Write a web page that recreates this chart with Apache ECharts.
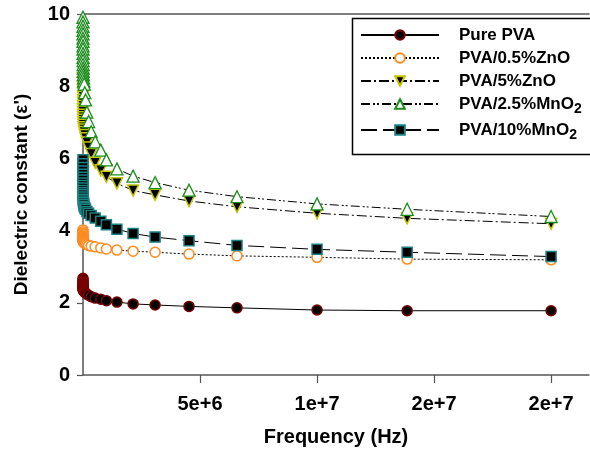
<!DOCTYPE html>
<html>
<head>
<meta charset="utf-8">
<script src="https://cdn.jsdelivr.net/npm/echarts@6/dist/echarts.min.js"></script>
<style>
html,body{margin:0;padding:0;background:#fff;}
#chart{width:590px;height:452px;}
</style>
</head>
<body>
<div id="chart"></div>
<script>
// Frequencies (Hz)
const frequency = [50, 75, 110, 160, 240, 350, 520, 760, 1100, 1650, 2400, 3500, 5200, 7600, 11000, 16500, 24000, 35000,
  52000, 76000, 110000, 165000, 240000, 350000, 520000, 760000, 1000000,
  1450000, 2140000, 3080000, 4530000, 6580000, 10000000, 13850000, 20000000];

const purePVA = [2.68, 2.64, 2.60, 2.57, 2.54, 2.51, 2.49, 2.47, 2.45, 2.43, 2.41, 2.40, 2.38, 2.37, 2.36, 2.35, 2.34, 2.33,
  2.31, 2.29, 2.27, 2.24, 2.21, 2.17, 2.13, 2.10, 2.06,
  2.02, 1.97, 1.94, 1.90, 1.86, 1.80, 1.78, 1.78];

const pva05ZnO = [4.02, 3.97, 3.93, 3.89, 3.86, 3.83, 3.81, 3.79, 3.77, 3.76, 3.74, 3.73, 3.72, 3.71, 3.70, 3.69, 3.68, 3.67,
  3.66, 3.65, 3.63, 3.61, 3.59, 3.57, 3.55, 3.52, 3.49,
  3.46, 3.43, 3.40, 3.35, 3.30, 3.26, 3.21, 3.19];

const pva5ZnO = [8.22, 8.10, 7.99, 7.90, 7.80, 7.71, 7.62, 7.54, 7.45, 7.37, 7.29, 7.21, 7.14, 7.07, 7.00, 6.93, 6.86, 6.80,
  6.73, 6.65, 6.56, 6.44, 6.30, 6.12, 5.88, 5.67, 5.49,
  5.31, 5.11, 4.99, 4.82, 4.66, 4.48, 4.34, 4.19];

const pva25MnO2 = [9.91, 9.78, 9.66, 9.55, 9.45, 9.33, 9.24, 9.12, 9.03, 8.91, 8.80, 8.71, 8.60, 8.50, 8.41, 8.32, 8.23, 8.14,
  8.06, 7.82, 7.62, 7.28, 7.02, 6.74, 6.46, 6.23, 5.96,
  5.71, 5.51, 5.33, 5.12, 4.94, 4.74, 4.59, 4.39];

const pva10MnO2 = [5.96, 5.85, 5.75, 5.65, 5.56, 5.48, 5.40, 5.32, 5.25, 5.18, 5.11, 5.05, 4.99, 4.93, 4.87, 4.82, 4.77, 4.72,
  4.67, 4.63, 4.59, 4.53, 4.48, 4.42, 4.35, 4.26, 4.16,
  4.04, 3.92, 3.82, 3.72, 3.59, 3.48, 3.40, 3.28];

const seriesNames = ['Pure PVA', 'PVA/0.5%ZnO', 'PVA/5%ZnO', 'PVA/2.5%MnO2', 'PVA/10%MnO2'];

const xTickValues = [5000000, 10000000, 15000000, 20000000];
const xTickLabels = ['5e+6', '1e+7', '2e+7', '2e+7'];
const yTickValues = [0, 2, 4, 6, 8, 10];

function pairs(vals) { return frequency.map((f, i) => [f, vals[i]]); }

const chart = echarts.init(document.getElementById('chart'), null, {renderer: 'canvas'});
const FONT = 'Liberation Sans, Arial, sans-serif';
const axisColor = '#555';

const lineBase = {type: 'line', xAxisIndex: 0, yAxisIndex: 0, showSymbol: true, animation: false, z: 3};

const option = {
  animation: false,
  backgroundColor: '#fff',
  grid: {left: 83, right: 1, top: 14, bottom: 77, containLabel: false},
  xAxis: [{
    type: 'value', min: 0, max: 21620000, interval: 5000000, position: 'bottom',
    name: 'Frequency (Hz)', nameLocation: 'middle', nameGap: 52,
    nameTextStyle: {fontFamily: FONT, fontWeight: 'bold', fontSize: 20, color: '#000'},
    axisLine: {show: true, onZero: false, lineStyle: {color: axisColor, width: 1.5}},
    axisTick: {show: true, inside: false, length: 8, customValues: xTickValues, lineStyle: {color: axisColor, width: 1.2}},
    axisLabel: {show: true, margin: 19, customValues: xTickValues, fontFamily: FONT, fontWeight: 'bold', fontSize: 20, color: '#000',
      formatter: function (v) { const i = xTickValues.indexOf(v); return i >= 0 ? xTickLabels[i] : ''; }},
    splitLine: {show: false}
  }, {
    type: 'value', min: 0, max: 21620000, position: 'top',
    axisLine: {show: true, onZero: false, lineStyle: {color: axisColor, width: 1.5}},
    axisTick: {show: false}, axisLabel: {show: false}, splitLine: {show: false}
  }],
  yAxis: {
    type: 'value', min: 0, max: 10, interval: 2,
    name: "Dielectric constant (ε')", nameLocation: 'middle', nameGap: 52, nameRotate: 90,
    nameTextStyle: {fontFamily: FONT, fontWeight: 'bold', fontSize: 19, color: '#000'},
    axisLine: {show: true, onZero: false, lineStyle: {color: axisColor, width: 1.5}},
    axisTick: {show: true, inside: false, length: 6, customValues: yTickValues, lineStyle: {color: axisColor, width: 1.2}},
    axisLabel: {margin: 13, customValues: yTickValues, fontFamily: FONT, fontWeight: 'bold', fontSize: 20, color: '#000'},
    splitLine: {show: false}
  },
  legend: {
    show: true, orient: 'vertical', left: 360, top: 26,
    itemWidth: 78, itemHeight: 12, itemGap: 5, padding: 0,
    selectedMode: false,
    data: seriesNames,
    textStyle: {fontFamily: FONT, fontWeight: 'bold', fontSize: 17, color: '#000', lineHeight: 18, padding: [0, 0, 0, 15],
      rich: {
        b: {fontFamily: FONT, fontWeight: 'bold', fontSize: 17, color: '#000'},
        sub: {fontFamily: FONT, fontWeight: 'bold', fontSize: 14, color: '#000', padding: [10, 0, 0, 0]}
      }},
    formatter: function (name) {
      if (name.endsWith('MnO2')) return '{b|' + name.slice(0, -1) + '}{sub|2}';
      return name;
    }
  },
  graphic: [{
    type: 'rect', left: 350, top: 16, z: 10, silent: true,
    shape: {width: 239, height: 136},
    style: {fill: 'none', stroke: '#000', lineWidth: 1.5}
  }],
  series: [
    Object.assign({}, lineBase, {
      name: seriesNames[0], data: pairs(purePVA),
      symbol: 'circle', symbolSize: 10,
      itemStyle: {color: '#000', borderColor: '#7a0000', borderWidth: 1.5},
      lineStyle: {color: '#000', width: 1, type: 'solid'}
    }),
    Object.assign({}, lineBase, {
      name: seriesNames[1], data: pairs(pva05ZnO),
      symbol: 'circle', symbolSize: 10,
      itemStyle: {color: '#fff', borderColor: '#ff8a1f', borderWidth: 1.5},
      lineStyle: {color: '#000', width: 1, type: [2, 2]}
    }),
    Object.assign({}, lineBase, {
      name: seriesNames[2], data: pairs(pva5ZnO),
      symbol: 'triangle', symbolRotate: 180, symbolSize: 11,
      itemStyle: {color: '#000', borderColor: '#c4c400', borderWidth: 1.5},
      lineStyle: {color: '#000', width: 1, type: [10, 3, 2, 3]}
    }),
    Object.assign({}, lineBase, {
      name: seriesNames[3], data: pairs(pva25MnO2),
      symbol: 'triangle', symbolSize: 12,
      itemStyle: {color: '#fff', borderColor: '#1a8c1a', borderWidth: 1.3},
      lineStyle: {color: '#000', width: 1, type: [9, 3, 2, 2, 2, 3]}
    }),
    Object.assign({}, lineBase, {
      name: seriesNames[4], data: pairs(pva10MnO2),
      symbol: 'rect', symbolSize: 10,
      itemStyle: {color: '#000', borderColor: '#1a8080', borderWidth: 1.5},
      lineStyle: {color: '#000', width: 1, type: [16, 6]}
    })
  ]
};
chart.setOption(option);
</script>
</body>
</html>
